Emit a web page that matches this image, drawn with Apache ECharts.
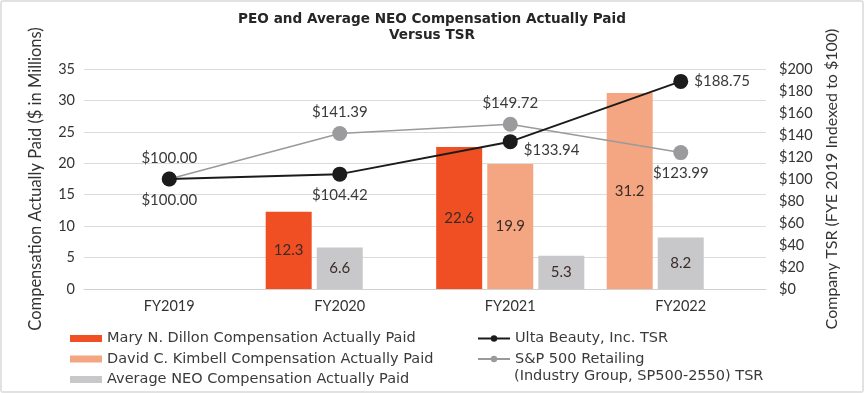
<!DOCTYPE html>
<html>
<head>
<meta charset="utf-8">
<script src="https://cdn.jsdelivr.net/npm/echarts@6/dist/echarts.min.js"></script>
<style>
html,body{margin:0;padding:0;background:#fff;}
#c{width:860px;height:389px;border:2px solid #e2e2e2;border-radius:3px;}
</style>
</head>
<body>
<div id="c"></div>
<script>
const categories = ['FY2019', 'FY2020', 'FY2021', 'FY2022'];
const dillonCAP = [null, 12.3, 22.6, null];
const kimbellCAP = [null, null, 19.9, 31.2];
const avgNeoCAP = [null, 6.6, 5.3, 8.2];
const ultaTSR = [100, 104.42, 133.94, 188.75];
const spRetailTSR = [100, 141.39, 149.72, 123.99];
const leftTicks = [0, 35, 5];
const rightTicks = [0, 200, 20];

const RED = '#EF4F23', PEACH = '#F4A682', GRAY = '#C8C8CA';
const NAMES = ['Mary N. Dillon Compensation Actually Paid', 'David C. Kimbell Compensation Actually Paid', 'Average NEO Compensation Actually Paid'];
const SP_NAME = 'S&P 500 Retailing';
const ULTA_NAME = 'Ulta Beauty, Inc. TSR';
const labelFont = 'Lato, "Open Sans", sans-serif';
const legendFont = '"DejaVu Sans", sans-serif';

// Fill bar slots in order, as the original chart does (non-empty values packed left to right)
const slots = [[], [], []];
categories.forEach((c, i) => {
  const vals = [[dillonCAP[i], RED], [kimbellCAP[i], PEACH], [avgNeoCAP[i], GRAY]].filter(v => v[0] != null);
  for (let k = 0; k < 3; k++) {
    const v = vals[k];
    slots[k].push(v ? { value: v[0], itemStyle: { color: v[1] } } : null);
  }
});
const slotColors = [RED, PEACH, GRAY];
const barSeries = slots.map((d, k) => ({
  name: NAMES[k],
  type: 'bar',
  yAxisIndex: 0,
  barWidth: 46,
  barGap: '11%',
  itemStyle: { color: slotColors[k] },
  data: d,
  label: { show: true, position: 'inside', color: '#3b2b26', fontSize: 15, fontFamily: labelFont, formatter: p => p.value.toFixed(1) },
  z: 1
}));

function lbl(pos, offset) { return { show: true, position: pos, offset: offset || [0, 0], distance: 6 }; }
const ultaLabelPos = [lbl('bottom', [0, 0]), lbl('bottom', [0, 0]), lbl('right', [0, 8]), lbl('right', [0, 0])];
const spLabelPos = [lbl('top'), lbl('top'), lbl('top'), lbl('bottom')];

const legendText = { fontSize: 14.5, color: '#3a3a3a', fontFamily: legendFont, lineHeight: 17 };

const option = {
  animation: false,
  title: {
    text: 'PEO and Average NEO Compensation Actually Paid\nVersus TSR',
    left: 'center', top: 4,
    textStyle: { fontSize: 13.6, fontWeight: 'bold', color: '#262626', fontFamily: legendFont, lineHeight: 16 }
  },
  grid: { left: 82, right: 96, top: 67, bottom: 102 },
  legend: [{
    orient: 'vertical', left: 68, top: 328, height: 80, padding: 0, itemWidth: 32, itemHeight: 7, itemGap: 3.5,
    data: NAMES.map(n => ({ name: n, icon: 'rect' })),
    textStyle: legendText
  }, {
    orient: 'vertical', left: 475, top: 328, height: 80, padding: 0, itemWidth: 32, itemHeight: 8, itemGap: 3.5,
    data: [ULTA_NAME, SP_NAME],
    textStyle: legendText
  }],
  graphic: [{
    type: 'text', left: 512, top: 367,
    style: { text: '(Industry Group, SP500-2550) TSR', fontSize: 14.5, fill: '#3a3a3a', fontFamily: legendFont }
  }],
  xAxis: {
    type: 'category', data: categories,
    axisLine: { lineStyle: { color: '#d0d0d0' } },
    axisTick: { show: false },
    axisLabel: { fontSize: 14.5, color: '#333', fontFamily: labelFont, margin: 10 }
  },
  yAxis: [{
    type: 'value', min: leftTicks[0], max: leftTicks[1], interval: leftTicks[2],
    name: 'Compensation Actually Paid ($ in Millions)', nameLocation: 'middle', nameGap: 40,
    nameTextStyle: { fontSize: 16.5, color: '#333', fontFamily: labelFont },
    axisLabel: { fontSize: 14.5, color: '#333', fontFamily: labelFont, margin: 9 },
    splitLine: { lineStyle: { color: '#dcdcdc', width: 1 } },
    axisLine: { show: false }, axisTick: { show: false }
  }, {
    type: 'value', min: rightTicks[0], max: rightTicks[1], interval: rightTicks[2],
    name: 'Company TSR (FYE 2019 Indexed to $100)', nameLocation: 'middle', nameGap: 51,
    nameRotate: 90,
    nameTextStyle: { fontSize: 16, color: '#333', fontFamily: labelFont },
    axisLabel: { fontSize: 14.5, color: '#333', fontFamily: labelFont, margin: 13, formatter: v => '$' + v },
    splitLine: { show: false }, axisLine: { show: false }, axisTick: { show: false }
  }],
  series: barSeries.concat([{
    name: SP_NAME, type: 'line', yAxisIndex: 1,
    data: spRetailTSR.map((v, i) => ({ value: v, label: spLabelPos[i] })),
    symbol: 'circle', symbolSize: 15,
    lineStyle: { color: '#999a9c', width: 1.5 },
    itemStyle: { color: '#9b9b9d' },
    label: { fontSize: 15, color: '#3a3a3a', fontFamily: labelFont, formatter: p => '$' + p.value.toFixed(2) },
    z: 3
  }, {
    name: ULTA_NAME, type: 'line', yAxisIndex: 1,
    data: ultaTSR.map((v, i) => ({ value: v, label: ultaLabelPos[i] })),
    symbol: 'circle', symbolSize: 15,
    lineStyle: { color: '#1b1b1b', width: 2 },
    itemStyle: { color: '#1b1b1b' },
    label: { fontSize: 15, color: '#3a3a3a', fontFamily: labelFont, formatter: p => '$' + p.value.toFixed(2) },
    z: 4
  }])
};
const chart = echarts.init(document.getElementById('c'));
chart.setOption(option);
</script>
</body>
</html>
